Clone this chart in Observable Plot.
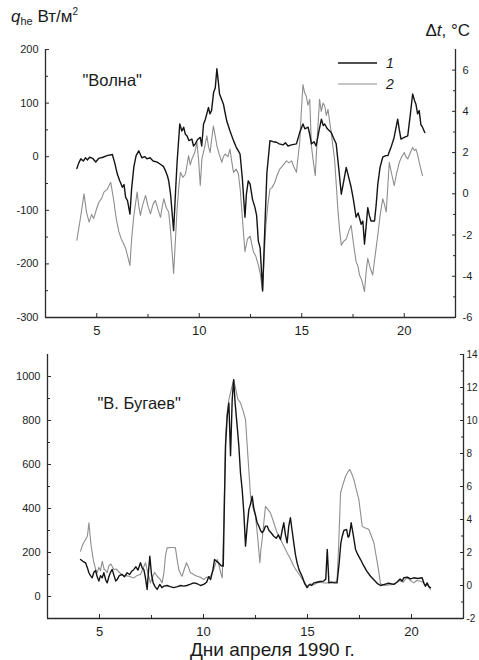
<!DOCTYPE html>
<html>
<head>
<meta charset="utf-8">
<script src="https://cdn.jsdelivr.net/npm/d3@7"></script>
<script src="https://cdn.jsdelivr.net/npm/@observablehq/plot@0.6"></script>
<style>
  body { margin: 0; background: #fff; }
  #chart { position: relative; width: 479px; height: 660px; overflow: hidden; background: #fff;
           font-family: "Liberation Sans", Arial, sans-serif; color: #1a1a1a; }
  #chart > svg, #chart > figure { position: absolute; left: 0; margin: 0; }
  .lbl { position: absolute; white-space: nowrap; line-height: 1; }
  .lbl sub { font-size: 11px; vertical-align: -3px; }
  .lbl sup { font-size: 10px; vertical-align: 7px; }
</style>
</head>
<body>
<div id="chart"></div>
<script>
// Day axis ticks (April 1990)
const dayTicks = [5, 10, 15, 20];
const dayMinor = [7.5, 12.5, 17.5];

// Panel 1 ("Волна"): heat flux q_he, W/m² (curve 1) and Δt, °C (curve 2)
const fluxTicksTop = [-300, -200, -100, 0, 100, 200];
const fluxMinorTop = [-250, -150, -50, 50, 150];
const dtTicksTop = [-6, -4, -2, 0, 2, 4, 6];
const dtMinorTop = [-5, -3, -1, 1, 3, 5];

const volnaFlux = [
  [4.03,-22],[4.12,-12],[4.22,-4],[4.35,-8],[4.45,-2],[4.55,-6],[4.65,-1],[4.8,-3],[4.95,-10],
  [5.1,-3],[5.3,-1],[5.5,2],[5.76,4],[5.88,-12],[6.0,-32],[6.12,-45],[6.25,-57],[6.33,-52],
  [6.41,-76],[6.5,-82],[6.62,-107],[6.7,-60],[6.81,-19],[6.92,2],[7.05,11],[7.2,-2],[7.35,0],
  [7.45,-4],[7.6,-2],[7.75,-8],[7.95,-10],[8.1,-14],[8.25,-18],[8.35,-26],[8.45,-36],[8.51,-45],
  [8.6,-70],[8.75,-138],[8.85,-60],[8.92,-10],[9.05,61],[9.15,48],[9.24,55],[9.32,42],[9.4,39],
  [9.5,30],[9.64,33],[9.72,20],[9.81,24],[9.92,32],[10.05,36],[10.12,20],[10.21,61],[10.3,70],
  [10.45,92],[10.52,80],[10.6,86],[10.7,120],[10.78,128],[10.86,164],[10.93,140],[10.99,117],
  [11.08,108],[11.18,98],[11.26,82],[11.34,67],[11.5,48],[11.67,30],[11.8,18],[11.92,10],[11.99,5],
  [12.1,-40],[12.23,-113],[12.3,-70],[12.39,-45],[12.48,-51],[12.6,-80],[12.72,-95],[12.8,-110],
  [12.88,-157],[12.97,-170],[13.09,-250],[13.2,-132],[13.3,-30],[13.45,30],[13.6,28],[13.77,27],
  [13.9,24],[14.09,22],[14.2,26],[14.33,20],[14.5,22],[14.74,24],[14.9,45],[15.06,61],[15.15,52],
  [15.31,55],[15.4,40],[15.47,24],[15.6,28],[15.7,20],[15.85,50],[15.96,70],[16.05,58],[16.12,61],
  [16.25,52],[16.44,45],[16.55,35],[16.68,24],[16.8,-20],[16.93,-70],[17.05,-45],[17.17,-20],
  [17.3,-40],[17.41,-57],[17.52,-80],[17.65,-113],[17.75,-105],[17.9,-126],[17.98,-120],[18.06,-163],
  [18.14,-130],[18.22,-95],[18.3,-110],[18.38,-120],[18.55,-120],[18.63,-90],[18.71,-51],[18.82,-20],
  [18.95,-1],[19.1,2],[19.2,2],[19.35,17],[19.5,35],[19.68,70],[19.76,50],[19.84,33],[20.0,36],
  [20.17,39],[20.3,80],[20.41,117],[20.5,105],[20.57,98],[20.65,80],[20.73,86],[20.81,60],
  [20.89,55],[21.0,45]
];

const volnaDt = [
  [4.03,-2.25],[4.2,-1.2],[4.38,0],[4.5,-0.9],[4.63,-1.37],[4.75,-1.0],[4.85,-1.2],[5.0,-0.7],
  [5.11,-0.4],[5.25,-0.2],[5.35,0.08],[5.5,0.2],[5.68,0.56],[5.76,0.1],[5.84,-0.4],[5.95,-1.2],
  [6.08,-1.85],[6.2,-2.2],[6.3,-2.4],[6.41,-2.65],[6.5,-3.0],[6.62,-3.47],[6.7,-2.2],[6.81,-1.05],
  [6.97,0.08],[7.05,-0.6],[7.13,-1.05],[7.25,-0.5],[7.38,-0.08],[7.5,-0.6],[7.62,-0.97],[7.75,-0.5],
  [7.86,-0.32],[8.0,-0.8],[8.11,-1.14],[8.2,-0.6],[8.27,-0.24],[8.4,-0.7],[8.51,-0.88],[8.6,-1.8],
  [8.75,-3.86],[8.85,-2.0],[8.92,-0.72],[9.0,0.3],[9.08,1.04],[9.2,0.8],[9.33,0.96],[9.48,1.85],
  [9.56,1.4],[9.65,1.7],[9.78,2.0],[9.89,2.49],[9.97,1.6],[10.05,0.4],[10.13,1.7],[10.25,2.2],
  [10.37,2.81],[10.45,2.3],[10.53,2.0],[10.6,2.6],[10.69,3.29],[10.78,2.8],[10.86,2.33],[10.98,1.9],
  [11.1,1.53],[11.18,1.8],[11.26,1.93],[11.4,1.8],[11.5,2.17],[11.58,1.6],[11.67,1.04],[11.8,1.2],
  [11.91,0.96],[12.0,0.2],[12.07,-0.72],[12.15,-1.8],[12.23,-2.81],[12.35,-2.2],[12.48,-2.05],
  [12.64,-2.81],[12.75,-3.0],[12.88,-3.45],[12.98,-3.9],[13.09,-4.74],[13.17,-3.0],[13.25,-1.53],
  [13.35,-0.5],[13.45,0.24],[13.55,0.3],[13.69,0.56],[13.8,0.9],[13.93,1.2],[14.1,1.4],[14.26,1.6],
  [14.38,1.5],[14.5,1.6],[14.62,1.3],[14.74,1.04],[14.82,1.8],[14.9,2.49],[14.98,4.0],[15.06,5.3],
  [15.14,4.9],[15.22,4.74],[15.3,4.3],[15.39,4.58],[15.47,2.33],[15.56,1.6],[15.66,0.88],[15.76,2.8],
  [15.87,4.58],[15.95,4.0],[16.04,4.4],[16.12,4.26],[16.2,3.8],[16.28,4.1],[16.36,3.5],[16.44,2.97],
  [16.52,2.3],[16.6,1.69],[16.68,0.5],[16.76,-0.72],[16.85,-1.8],[16.93,-2.49],[17.05,-2.3],
  [17.17,-2.2],[17.3,-1.8],[17.41,-1.53],[17.52,-2.4],[17.65,-3.29],[17.74,-3.5],[17.82,-3.94],
  [17.93,-4.2],[18.06,-4.74],[18.14,-3.8],[18.22,-3.13],[18.34,-3.6],[18.46,-3.94],[18.58,-3.0],
  [18.71,-2.0],[18.83,-1.0],[18.95,-0.24],[19.03,-0.5],[19.12,-0.88],[19.2,0.4],[19.27,1.53],
  [19.4,0.9],[19.51,0.4],[19.63,1.0],[19.76,1.53],[19.88,1.8],[20.0,2.0],[20.08,1.8],[20.17,1.69],
  [20.3,2.0],[20.41,2.25],[20.5,2.1],[20.57,2.17],[20.65,1.9],[20.73,1.53],[20.81,1.2],[20.89,0.88]
];

// Panel 2 ("В. Бугаев")
const fluxTicksBot = [0, 200, 400, 600, 800, 1000];
const fluxMinorBot = [100, 300, 500, 700, 900];
const dtTicksBot = [-2, 0, 2, 4, 6, 8, 10, 12, 14];
const dtMinorBot = [-1, 1, 3, 5, 7, 9, 11, 13];

const bugaevFlux = [
  [4.09,168],[4.2,160],[4.33,153],[4.42,130],[4.49,108],[4.57,95],[4.65,85],[4.73,110],[4.81,118],
  [4.89,90],[4.97,70],[5.05,95],[5.13,85],[5.21,108],[5.3,75],[5.37,62],[5.45,90],[5.53,110],
  [5.61,123],[5.7,95],[5.78,70],[5.85,77],[5.95,95],[6.09,100],[6.2,90],[6.33,108],[6.45,100],
  [6.55,115],[6.65,123],[6.75,135],[6.85,120],[6.97,153],[7.05,130],[7.13,123],[7.2,90],[7.29,32],
  [7.36,120],[7.42,183],[7.5,100],[7.58,62],[7.67,45],[7.77,32],[7.9,55],[8.0,40],[8.09,47],
  [8.25,50],[8.4,45],[8.57,40],[8.75,45],[8.9,50],[9.05,47],[9.2,50],[9.35,55],[9.53,62],[9.7,58],
  [9.85,50],[10.01,55],[10.15,65],[10.25,90],[10.34,77],[10.45,120],[10.53,168],[10.63,160],
  [10.73,153],[10.85,140],[10.95,138],[11.0,400],[11.06,683],[11.14,820],[11.22,880],[11.3,640],
  [11.38,895],[11.45,986],[11.52,880],[11.59,805],[11.65,740],[11.7,683],[11.78,560],[11.86,486],
  [11.94,380],[12.02,229],[12.1,320],[12.18,395],[12.26,420],[12.34,456],[12.42,400],[12.5,370],
  [12.58,335],[12.66,320],[12.74,300],[12.82,290],[12.9,300],[12.98,320],[13.06,320],[13.15,300],
  [13.25,290],[13.38,274],[13.5,265],[13.6,280],[13.7,259],[13.78,300],[13.86,335],[13.94,280],
  [14.02,244],[14.1,320],[14.18,358],[14.26,300],[14.34,244],[14.42,190],[14.5,153],[14.6,120],
  [14.74,92],[14.86,60],[14.98,40],[15.1,55],[15.2,50],[15.3,62],[15.45,65],[15.6,68],[15.78,70],
  [15.88,80],[15.95,214],[16.03,62],[16.15,65],[16.3,62],[16.42,62],[16.52,150],[16.6,240],
  [16.67,274],[16.75,300],[16.88,305],[16.95,270],[17.0,274],[17.05,300],[17.1,335],[17.2,280],
  [17.31,214],[17.42,190],[17.55,168],[17.7,140],[17.85,115],[18.03,92],[18.2,75],[18.35,60],
  [18.51,50],[18.7,55],[18.9,60],[19.15,55],[19.3,65],[19.45,80],[19.55,70],[19.63,85],[19.8,88],
  [19.95,80],[20.11,85],[20.3,82],[20.51,85],[20.6,60],[20.67,47],[20.75,62],[20.83,45],[20.91,40]
];

const bugaevDt = [
  [4.09,2.08],[4.2,2.5],[4.33,2.79],[4.42,3.0],[4.49,3.8],[4.55,3.0],[4.6,2.38],[4.66,1.9],
  [4.73,1.38],[4.81,1.0],[4.89,0.77],[4.97,1.1],[5.05,0.9],[5.13,1.47],[5.22,1.0],[5.3,0.9],
  [5.37,0.77],[5.45,1.2],[5.55,1.3],[5.69,0.97],[5.8,1.0],[5.95,0.8],[6.05,0.7],[6.17,0.56],
  [6.3,0.6],[6.45,0.55],[6.55,0.5],[6.65,0.46],[6.8,0.6],[6.97,0.67],[7.08,1.0],[7.21,1.38],
  [7.3,0.9],[7.38,0.5],[7.45,0.16],[7.55,0.5],[7.65,0.8],[7.77,0.56],[7.9,0.4],[8.01,0.16],
  [8.1,0.8],[8.17,1.78],[8.25,2.28],[8.4,2.3],[8.55,2.3],[8.65,2.28],[8.73,1.6],[8.81,0.97],
  [8.9,0.7],[8.97,0.56],[9.08,1.0],[9.18,1.38],[9.28,1.1],[9.37,0.77],[9.5,0.7],[9.6,0.6],
  [9.7,0.56],[9.85,0.5],[10.01,0.36],[10.15,0.5],[10.34,0.56],[10.5,1.0],[10.6,1.4],[10.66,1.58],
  [10.75,1.2],[10.84,0.7],[10.9,0.46],[10.98,4.0],[11.06,9.05],[11.14,10.5],[11.22,11.27],
  [11.32,11.8],[11.45,12.48],[11.55,11.9],[11.65,11.3],[11.78,11.07],[11.9,10.6],[12.02,10.06],
  [12.1,8.5],[12.18,7.0],[12.26,5.41],[12.38,4.7],[12.5,4.2],[12.6,3.0],[12.71,1.38],[12.76,2.2],
  [12.82,2.79],[12.9,3.8],[12.98,4.8],[13.1,4.6],[13.22,4.4],[13.38,3.8],[13.54,3.19],[13.7,2.8],
  [13.86,2.4],[14.02,1.98],[14.18,1.6],[14.34,1.17],[14.5,0.85],[14.66,0.56],[14.82,0.25],
  [14.98,-0.04],[15.15,0.1],[15.3,0.05],[15.46,0.16],[15.6,0.2],[15.8,0.15],[15.95,0.16],
  [16.1,0.2],[16.25,0.2],[16.42,0.26],[16.5,2.5],[16.59,5.62],[16.7,6.1],[16.83,6.62],[16.95,6.9],
  [17.03,7.03],[17.12,6.8],[17.23,6.42],[17.35,5.8],[17.47,5.21],[17.55,4.4],[17.63,3.6],
  [17.75,3.5],[17.85,3.45],[17.95,3.39],[18.07,3.0],[18.19,2.59],[18.3,1.8],[18.42,0.9],
  [18.51,0.1],[18.7,0.0],[18.99,0.05],[19.2,0.1],[19.4,0.3],[19.6,0.2],[19.79,0.5],[19.95,0.3],
  [20.11,0.16],[20.25,0.3],[20.43,0.26],[20.55,0.2],[20.67,-0.04],[20.78,0.1],[20.91,-0.24]
];

const font = "'Liberation Sans', Arial, sans-serif";
const axisColor = "#2b2b2b";
const blackLine = "#141414";
const grayLine = "#8e8e8e";

const toRows = (pairs) => pairs.map(([day, v]) => ({day, v}));

// Secondary (Δt) scale expressed in the primary (flux) units of each panel
const topDtToFlux = t => -300 + (t + 6) * 500 / 13;   // Δt ∈ [-6, 7] ↔ q ∈ [-300, 200]
const topFluxToDt = q => (q + 300) * 13 / 500 - 6;
const botDtToFlux = t => -100 + (t + 2) * 75;          // Δt ∈ [-2, 14] ↔ q ∈ [-100, 1100]
const botFluxToDt = q => (q + 100) / 75 - 2;

function panel({width, height, marginLeft, marginRight, marginTop, marginBottom, yDomain,
                fluxTicks, fluxMinor, dtTicks, dtMinor, dtToFlux, fluxToDt, rightPad, rightFont,
                flux, dt, name, nameDx, nameDy}) {
  const [y0, y1] = yDomain;
  return Plot.plot({
    width, height, marginLeft, marginRight, marginTop, marginBottom,
    x: {domain: [2.5, 22.5], label: null},
    y: {domain: yDomain, label: null},
    style: {fontFamily: font, fontSize: "11px", color: "#1e1e1e", background: "transparent", overflow: "visible"},
    marks: [
      // frame: left, right and bottom axis lines
      Plot.ruleX([2.5, 22.5], {y1: y0, y2: y1, stroke: axisColor, strokeWidth: 1.3}),
      Plot.ruleY([y0], {stroke: axisColor, strokeWidth: 1.3}),
      // x axis (inward ticks)
      Plot.axisX(dayTicks, {anchor: "bottom", tickSize: -4, tickPadding: 12, fontSize: 13,
                            stroke: axisColor, tickFormat: d => String(d), label: null}),
      Plot.axisX(dayMinor, {anchor: "bottom", tickSize: -3, tickPadding: 0, stroke: axisColor,
                            tickFormat: () => "", label: null}),
      // left flux axis
      Plot.axisY(fluxTicks, {anchor: "left", tickSize: -4, tickPadding: 11, fontSize: 11,
                             stroke: axisColor, tickFormat: d => String(d), label: null}),
      Plot.axisY(fluxMinor, {anchor: "left", tickSize: -3, tickPadding: 0, stroke: axisColor,
                             tickFormat: () => "", label: null}),
      // right Δt axis
      Plot.axisY(dtTicks.map(dtToFlux), {anchor: "right", tickSize: -4, tickPadding: rightPad, fontSize: rightFont,
                                         stroke: axisColor, tickFormat: q => String(Math.round(fluxToDt(q))), label: null}),
      Plot.axisY(dtMinor.map(dtToFlux), {anchor: "right", tickSize: -3, tickPadding: 0, stroke: axisColor,
                                         tickFormat: () => "", label: null}),
      // curve 2: Δt
      Plot.line(toRows(dt), {x: "day", y: d => dtToFlux(d.v), stroke: grayLine, strokeWidth: 1.1}),
      // curve 1: q_he
      Plot.line(toRows(flux), {x: "day", y: "v", stroke: blackLine, strokeWidth: 1.4}),
      // vessel name
      Plot.text([name], {frameAnchor: "top-left", dx: nameDx, dy: nameDy, fontSize: 16.5,
                         textAnchor: "start", lineAnchor: "middle", fill: "#1a1a1a"})
    ]
  });
}

const chart = document.getElementById("chart");

const topPanel = panel({
  width: 479, height: 335, marginLeft: 45, marginRight: 24, marginTop: 49, marginBottom: 18,
  yDomain: [-300, 200], fluxTicks: fluxTicksTop, fluxMinor: fluxMinorTop,
  dtTicks: dtTicksTop, dtMinor: dtMinorTop, dtToFlux: topDtToFlux, fluxToDt: topFluxToDt,
  rightPad: 11, rightFont: 11,
  flux: volnaFlux, dt: volnaDt, name: "\"Волна\"", nameDx: 37, nameDy: 31
});
topPanel.style.top = "0px";
chart.appendChild(topPanel);

const bottomPanel = panel({
  width: 479, height: 305, marginLeft: 47, marginRight: 16, marginTop: 19, marginBottom: 22,
  yDomain: [-100, 1100], fluxTicks: fluxTicksBot, fluxMinor: fluxMinorBot,
  dtTicks: dtTicksBot, dtMinor: dtMinorBot, dtToFlux: botDtToFlux, fluxToDt: botFluxToDt,
  rightPad: 7, rightFont: 10,
  flux: bugaevFlux, dt: bugaevDt, name: "\"В. Бугаев\"", nameDx: 50, nameDy: 49
});
bottomPanel.style.top = "335px";
chart.appendChild(bottomPanel);

// Axis titles and x label
function addLabel(html, css) {
  const el = document.createElement("div");
  el.className = "lbl";
  el.innerHTML = html;
  Object.assign(el.style, css);
  chart.appendChild(el);
  return el;
}
addLabel("<i>q</i><sub>he</sub> Вт/м<sup>2</sup>", {left: "11px", top: "7px", fontSize: "17px"});
addLabel("Δ<i>t</i>, °C", {right: "9px", top: "22px", fontSize: "17px"});
addLabel("Дни апреля 1990 г.", {left: "190px", top: "640px", fontSize: "19px"});

// legend
const legendSeries = [
  {label: "1", color: blackLine, width: 1.4, y: 63},
  {label: "2", color: grayLine, width: 1.2, y: 84}
];
const legend = d3.create("svg")
  .attr("width", 479).attr("height", 100)
  .style("position", "absolute").style("left", "0px").style("top", "0px").style("overflow", "visible");
const lg = legend.selectAll("g").data(legendSeries).join("g");
lg.append("line")
  .attr("x1", 338).attr("x2", 377)
  .attr("y1", d => d.y).attr("y2", d => d.y)
  .attr("stroke", d => d.color).attr("stroke-width", d => d.width);
lg.append("text")
  .attr("x", 386).attr("y", d => d.y)
  .attr("dy", "0.35em")
  .attr("font-family", font).attr("font-size", 14).attr("font-style", "italic")
  .attr("fill", "#1a1a1a")
  .text(d => d.label);
chart.appendChild(legend.node());
</script>
</body>
</html>
